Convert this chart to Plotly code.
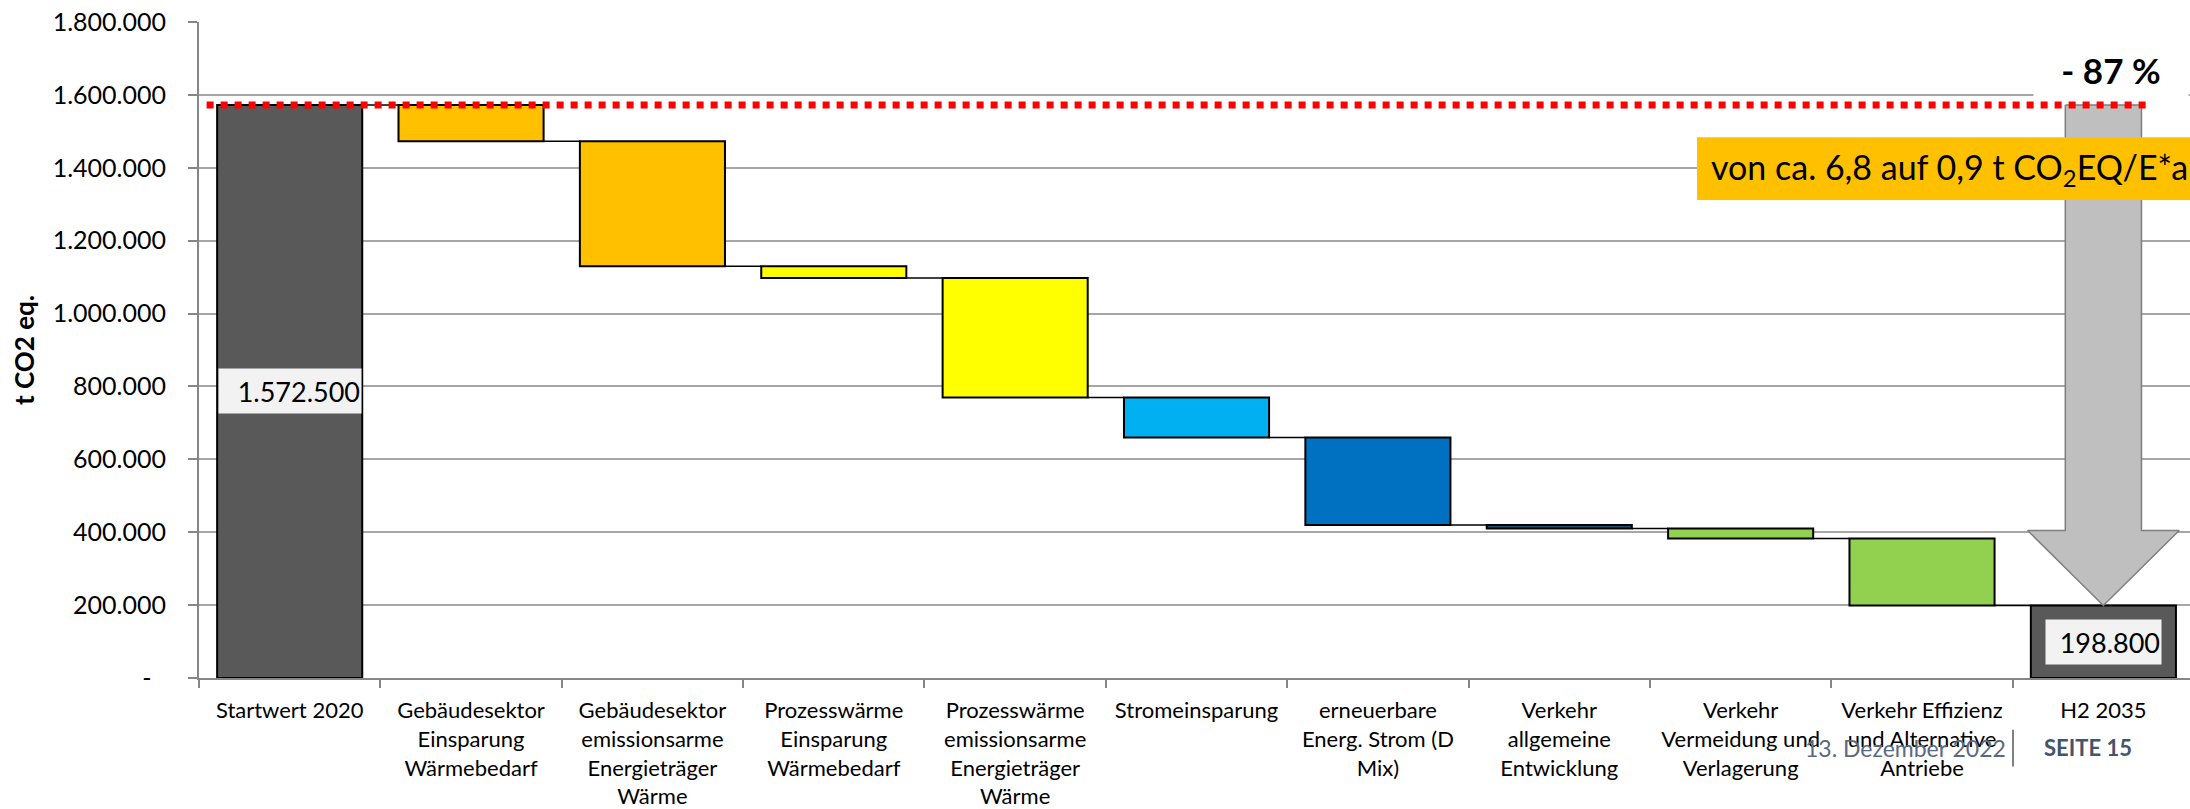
import plotly.graph_objects as go

# --- data -------------------------------------------------------------
categories = [
    "Startwert 2020",
    "Gebäudesektor<br>Einsparung<br>Wärmebedarf",
    "Gebäudesektor<br>emissionsarme<br>Energieträger<br>Wärme",
    "Prozesswärme<br>Einsparung<br>Wärmebedarf",
    "Prozesswärme<br>emissionsarme<br>Energieträger<br>Wärme",
    "Stromeinsparung",
    "erneuerbare<br>Energ. Strom (D<br>Mix)",
    "Verkehr<br>allgemeine<br>Entwicklung",
    "Verkehr<br>Vermeidung und<br>Verlagerung",
    "Verkehr Effizienz<br>und Alternative<br>Antriebe",
    "H2 2035",
]
start_value = 1572500
reductions = [100000, 342500, 32500, 327500, 110000, 240000, 10000, 27500, 183700]
end_value = 198800
bar_colors = [
    "#595959", "#FFC000", "#FFC000", "#FFFF00", "#FFFF00", "#00B0F0",
    "#0070C0", "#1F4E79", "#92D050", "#92D050", "#595959",
]
y_ticks = [0, 200000, 400000, 600000, 800000, 1000000, 1200000, 1400000, 1600000, 1800000]
reduction_text = "- 87 %"
box_text = "von ca. 6,8 auf 0,9 t CO<sub>2</sub>EQ/E*a"


def de(v):
    return f"{v:,.0f}".replace(",", ".")


y_ticktext = [de(v) if v else "-\u2007" for v in y_ticks]

# --- waterfall geometry ------------------------------------------------
n = len(categories)
xs = list(range(n))
bases, heights = [0], [start_value]
level = start_value
levels = [start_value]
for r in reductions:
    level -= r
    bases.append(level)
    heights.append(r)
    levels.append(level)
bases.append(0)
heights.append(end_value)

BW = 0.8
W, H = 2190, 809
ML, MR, MT, MB = 199, 0, 22, 127
PW, PH = W - ML - MR, H - MT - MB
CAT = 181.37
x_hi = -0.5 + PW / CAT


def px_x(px):
    return (px - ML) / PW


def px_y(py):
    return (H - MB - py) / PH


FONT = "Lato, 'Open Sans', sans-serif"

fig = go.Figure()

# connectors between consecutive bars
cx, cy = [], []
for i, lv in enumerate(levels):
    cx += [i + BW / 2, i + 1 - BW / 2, None]
    cy += [lv, lv, None]
fig.add_trace(go.Scatter(x=cx, y=cy, mode="lines", line=dict(color="#000000", width=1.5),
                         hoverinfo="skip", showlegend=False))

fig.add_trace(go.Bar(
    x=xs, y=heights, base=bases, width=BW,
    marker=dict(color=bar_colors, line=dict(color="#000000", width=2)),
    showlegend=False, hoverinfo="skip",
))

# big reduction arrow on the last category
last = n - 1
head_base = end_value + 0.15 * (start_value - end_value)
sw, hw = 0.21, 0.418
ax_ = [last - sw, last + sw, last + sw, last + hw, last, last - hw, last - sw, last - sw]
ay_ = [start_value, start_value, head_base, head_base, end_value, head_base, head_base, start_value]
fig.add_trace(go.Scatter(x=ax_, y=ay_, mode="lines", fill="toself", fillcolor="#BFBFBF",
                         line=dict(color="#7F7F7F", width=1.5), hoverinfo="skip", showlegend=False))

# red dotted reference line at the start value
fig.add_trace(go.Scatter(x=[-0.458, last + 0.266], y=[start_value, start_value], mode="lines",
                         line=dict(color="#FF0000", width=7, dash="7px,7px"),
                         hoverinfo="skip", showlegend=False))

# value labels for the two totals
for xi, val, bw in [(0, start_value, 140), (last, end_value, 113)]:
    fig.add_annotation(x=xi, y=val / 2, text=de(val), showarrow=False, bgcolor="#F2F2F2",
                       width=bw, height=42, align="right", xanchor="center", yanchor="middle",
                       font=dict(family=FONT, size=27, color="#000000"))

# percentage label on the arrow
fig.add_annotation(xref="paper", yref="paper", x=px_x(2111), y=px_y(70), text=f"<b>{reduction_text}</b>",
                   showarrow=False, bgcolor="#FFFFFF", width=152, height=56,
                   xanchor="center", yanchor="middle",
                   font=dict(family=FONT, size=35, color="#000000"))

# orange info box
fig.add_shape(type="rect", xref="paper", yref="paper", x0=px_x(1697), x1=px_x(2195),
              y0=px_y(201), y1=px_y(138), fillcolor="#FFC000", line=dict(width=0), layer="above")
fig.add_annotation(xref="paper", yref="paper", x=px_x(1709), y=px_y(170), xanchor="left",
                   yanchor="middle", text=box_text, showarrow=False,
                   font=dict(family=FONT, size=34, color="#000000"))

# y-axis title
fig.add_annotation(xref="paper", yref="paper", x=px_x(24), y=px_y(352), text="<b>t CO2 eq.</b>",
                   textangle=-90, showarrow=False, xanchor="center", yanchor="middle",
                   font=dict(family=FONT, size=26, color="#000000"))

# footer
fig.add_annotation(xref="paper", yref="paper", x=px_x(1803), y=px_y(752), xanchor="left",
                   yanchor="middle", text="13. Dezember 2022", showarrow=False,
                   font=dict(family=FONT, size=23, color="#5A6A80"))
fig.add_annotation(xref="paper", yref="paper", x=px_x(2042), y=px_y(752), xanchor="left",
                   yanchor="middle", text="<b>SEITE 15</b>", showarrow=False,
                   font=dict(family=FONT, size=22, color="#44546A"))
fig.add_shape(type="line", xref="paper", yref="paper", x0=px_x(2013), x1=px_x(2013),
              y0=px_y(734), y1=px_y(771), line=dict(color="#808080", width=2), layer="above")

fig.update_layout(
    width=W, height=H,
    margin=dict(l=ML, r=MR, t=MT, b=MB, pad=0),
    paper_bgcolor="#FFFFFF", plot_bgcolor="#FFFFFF",
    font=dict(family=FONT, color="#000000"),
    bargap=0.2,
    xaxis=dict(
        range=[-0.5, x_hi], tickvals=xs, ticktext=categories, ticks="",
        tickfont=dict(family=FONT, size=22, color="#000000"),
        showgrid=False, zeroline=False, showline=True, linecolor="#868686", linewidth=2,
        minor=dict(tick0=0.5, dtick=1, ticks="outside", ticklen=8, tickcolor="#868686",
                   tickwidth=2, showgrid=False),
        ticklabelstandoff=12,
    ),
    yaxis=dict(
        range=[0, 1800000], tickvals=y_ticks, ticktext=y_ticktext,
        ticks="outside", ticklen=9, tickcolor="#868686", tickwidth=2,
        tickfont=dict(family=FONT, size=25, color="#000000"),
        showgrid=True, gridcolor="#A6A6A6", gridwidth=1.5,
        zeroline=False, showline=True, linecolor="#868686", linewidth=2,
        ticklabelstandoff=17,
    ),
)

fig.write_html("out.html")
